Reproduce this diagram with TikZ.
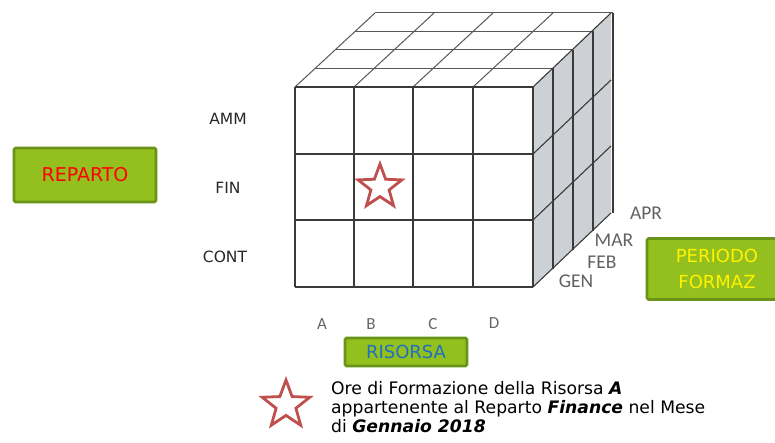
\documentclass[tikz,border=0pt]{standalone}
\usepackage{fontspec}
\setmainfont{DejaVu Sans}
\newfontfamily\calib{Carlito}
\usetikzlibrary{shapes.geometric}
\definecolor{boxgreen}{HTML}{93C01F}
\definecolor{boxedge}{HTML}{6A9417}
\definecolor{starred}{HTML}{C0504D}
\definecolor{sidegray}{HTML}{CDD0D4}
\definecolor{gridline}{HTML}{3A3A3A}
\definecolor{risblue}{HTML}{1F70C1}
\tikzset{
  greenbox/.style={draw=boxedge, line width=2.6pt, fill=boxgreen, rounded corners=1.5pt, inner sep=0pt, align=center},
  cubeline/.style={draw=gridline, line width=1.1pt},
  topline/.style={draw=gridline!85, line width=1pt},
  rowlab/.style={text=black!85, font=\fontsize{15.5}{17}\selectfont},
  collab/.style={text=black!60, font=\calib\fontsize{17}{19}\selectfont},
  monlab/.style={text=black!62, font=\calib\fontsize{19.5}{21}\selectfont},
  starmark/.style={star, star points=5, star point ratio=2.4, draw=starred, line width=2.8pt, fill=white, inner sep=0pt},
}
\begin{document}
\begin{tikzpicture}[x=1pt,y=-1pt]
\useasboundingbox (0,0) rectangle (775,443);
\clip (0,0) rectangle (775,443);
% top face
\fill[white] (295,87) -- (375,13) -- (611,13) -- (533,87) -- cycle;
\foreach \k in {0,1,2,3,4} {
  \draw[topline] ({295+20*\k},{87-18.5*\k}) -- ({533+20*\k},{87-18.5*\k});
}
\foreach \x in {295,354,413,473} {
  \draw[topline] (\x,87) -- ({\x+80},13);
}
% side face
\fill[sidegray] (533,87) -- (611,13) -- (611,213) -- (533,287) -- cycle;
\foreach \k in {0,1,2,3,4} {
  \draw[cubeline] ({533+20*\k},{87-18.5*\k}) -- ({533+20*\k},{287-18.5*\k});
}
\foreach \y in {87,154,220,287} {
  \draw[cubeline] (533,\y) -- (611,{\y-74});
}
% front face
\fill[white] (295,87) rectangle (533,287);
\foreach \x in {295,354,413,473,533} {
  \draw[cubeline] (\x,87) -- (\x,287);
}
\foreach \y in {87,154,220,287} {
  \draw[cubeline] (295,\y) -- (533,\y);
}
% star in cube
\node[starmark, minimum size=46pt] (cellstar) at (380,187) {};
% row labels
\node[rowlab] (amm) at (228,119) {AMM};
\node[rowlab] (fin) at (228,188) {FIN};
\node[rowlab] (cont) at (225,257) {CONT};
% column labels
\node[collab] (ca) at (322,324) {A};
\node[collab] (cb) at (371,324) {B};
\node[collab] (cc) at (433,324) {C};
\node[collab] (cd) at (494,323) {D};
% month labels
\node[monlab] (apr) at (646,213) {APR};
\node[monlab] (mar) at (614,240) {MAR};
\node[monlab] (feb) at (602,262) {FEB};
\node[monlab] (gen) at (576,281) {GEN};
% green boxes
\node[greenbox, minimum width=142pt, minimum height=54pt, text=red, font=\fontsize{19}{21}\selectfont] (reparto) at (85,175) {REPARTO};
\node[greenbox, minimum width=140pt, minimum height=61pt, text=yellow, font=\fontsize{18}{26}\selectfont] (periodo) at (717,269) {PERIODO\\FORMAZ};
\node[greenbox, minimum width=122pt, minimum height=28pt, text=risblue, font=\fontsize{18}{20}\selectfont] (risorsa) at (406,352) {RISORSA};
% legend
\node[starmark, minimum size=50pt] (legstar) at (286,405) {};
\node[anchor=west, align=left, font=\fontsize{17.2}{19}\selectfont, inner sep=0pt] (legtext) at (331,407)
 {Ore di Formazione della Risorsa \textbf{\textit{A}}\\
  appartenente al Reparto \textbf{\textit{Finance}} nel Mese\\
  di \textbf{\textit{Gennaio 2018}}};
\end{tikzpicture}
\end{document}
